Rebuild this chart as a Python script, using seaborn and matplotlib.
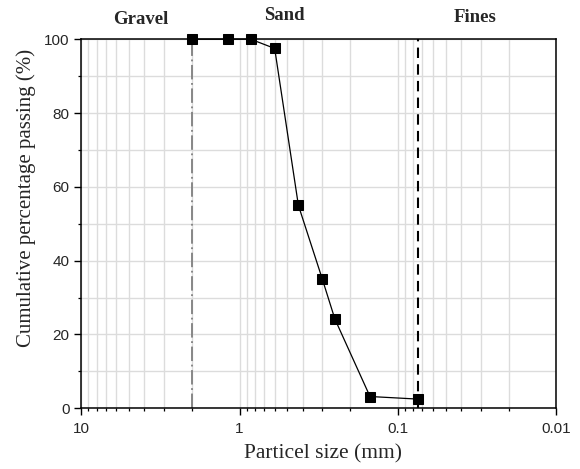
import pandas as pd
import matplotlib
matplotlib.use("Agg")
import matplotlib.pyplot as plt
import matplotlib.ticker as mticker
import seaborn as sns

# Datos de granulometria
tamano = [2.0, 1.18, 0.85, 0.6, 0.425, 0.3, 0.25, 0.15, 0.075]
pasante = [100, 100, 100, 97.5, 55, 35, 24.2, 3.2, 2.5]
limite_grava = 2.0
limite_finos = 0.075
zonas = ["Gravel", "Sand", "Fines"]

df = pd.DataFrame({"size": tamano, "passing": pasante})

sns.set_style("ticks")
plt.rcParams["font.family"] = ["Liberation Sans", "DejaVu Sans"]

fig = plt.figure(figsize=(5.8, 4.69), dpi=100)
ax = fig.add_axes([0.14, 0.1294, 0.819, 0.787])

ax.set_xscale("log")
ax.set_xlim(10, 0.01)
ax.set_ylim(0, 100)

# rejilla
ax.xaxis.set_major_locator(mticker.LogLocator(base=10, numticks=10))
ax.xaxis.set_minor_locator(mticker.LogLocator(base=10, subs=range(2, 10), numticks=10))
ax.xaxis.set_major_formatter(mticker.FuncFormatter(lambda v, p: f"{v:g}"))
ax.xaxis.set_minor_formatter(mticker.NullFormatter())
ax.yaxis.set_major_locator(mticker.MultipleLocator(20))
ax.yaxis.set_minor_locator(mticker.MultipleLocator(10))
ax.grid(True, which="both", color="#dcdcdc", linewidth=1.0)
ax.set_axisbelow(True)

# lineas de limite
ax.axvline(limite_grava, color="#7f7f7f", linestyle=(0, (8, 2, 1, 2)), linewidth=1.3, zorder=2)
ax.axvline(limite_finos, color="black", linestyle=(0, (5, 3)), linewidth=1.5, zorder=2)

sns.lineplot(data=df, x="size", y="passing", ax=ax, color="black", linewidth=0.9,
             marker="s", markersize=7, markeredgecolor="black", sort=False,
             zorder=3, clip_on=False)

for s in ax.spines.values():
    s.set_linewidth(1.1)
    s.set_color("black")

ax.tick_params(which="major", direction="out", length=5, width=1.0, labelsize=11,
               color="black", pad=3.5)
ax.tick_params(axis="x", which="major", pad=5)
ax.tick_params(which="minor", direction="out", length=2.5, width=0.9, color="black")

ax.set_xlabel("Particel size (mm)", family="Liberation Serif", fontsize=15.5)
ax.set_ylabel("Cumulative percentage passing (%)", family="Liberation Serif", fontsize=15)
ax.xaxis.set_label_coords(0.509, -0.098)
ax.yaxis.set_label_coords(-0.095, 0.569)

# etiquetas de zonas
pos_x = [141, 284, 475]
pos_y = [20, 16, 17]
for nombre, px, py in zip(zonas, pos_x, pos_y):
    fig.text(px / 580, 1 - py / 469, nombre, family="Liberation Serif", fontweight="bold",
             fontsize=13.5, ha="center", va="center")

fig.savefig("out.png", dpi=100)
